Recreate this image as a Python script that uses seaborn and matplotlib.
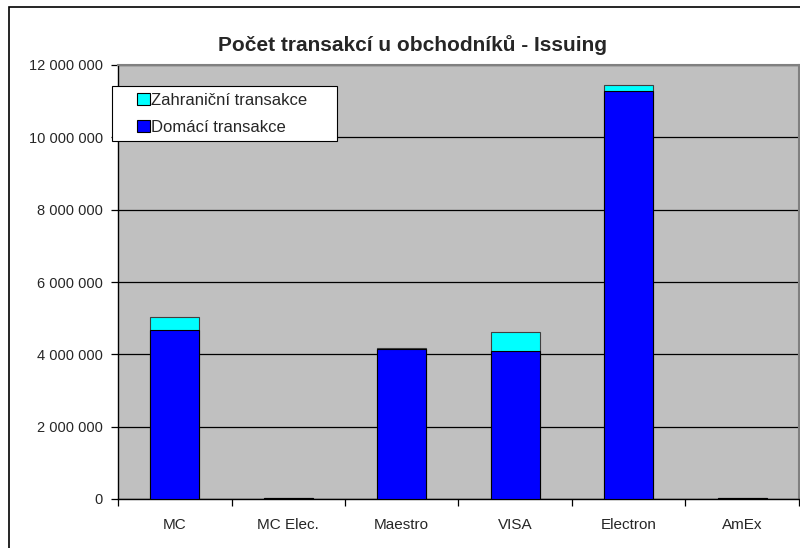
import matplotlib.pyplot as plt
import matplotlib.ticker as mticker
import matplotlib.patches as mpatches
from matplotlib.legend_handler import HandlerPatch
import pandas as pd
import seaborn as sns

# Data
categories = ['MC', 'MC Elec.', 'Maestro', 'VISA', 'Electron', 'AmEx']
domestic = [4660000, 15000, 4140000, 4080000, 11290000, 15000]
foreign = [360000, 5000, 30000, 530000, 150000, 5000]
series_names = ['Zahraniční transakce', 'Domácí transakce']

df = pd.DataFrame({'card': categories, 'domestic': domestic, 'foreign': foreign})
df['total'] = df['domestic'] + df['foreign']

sns.set_style('white')
plt.rcParams['font.family'] = ['Liberation Sans', 'DejaVu Sans']

fig = plt.figure(figsize=(8, 5.48), dpi=100)
ax = fig.add_axes([118 / 800, 1 - 499 / 548, 681 / 800, (499 - 65) / 548])
ax.set_facecolor('#C0C0C0')

# stacked bars: total (cyan) first, then domestic (blue) on top
sns.barplot(data=df, x='card', y='total', color='#00FFFF', width=0.43,
            edgecolor='#404040', linewidth=0.8, saturation=1, ax=ax, zorder=3)
sns.barplot(data=df, x='card', y='domestic', color='#0000FF', width=0.43,
            edgecolor='black', linewidth=0.8, saturation=1, ax=ax, zorder=3)

ax.set_xlim(-0.5, len(categories) - 0.5)
ax.set_ylim(0, 12000000)
ax.yaxis.set_major_locator(mticker.MultipleLocator(2000000))
ax.yaxis.set_major_formatter(mticker.FuncFormatter(lambda v, p: f'{int(v):,}'.replace(',', ' ')))
ax.grid(axis='y', color='black', linewidth=0.9, zorder=1)
ax.set_axisbelow(True)
ax.set_xlabel('')
ax.set_ylabel('')

# category boundary ticks on x axis
ax.set_xticks(range(len(categories)))
ax.set_xticklabels(categories)
ax.xaxis.set_minor_locator(mticker.FixedLocator([i - 0.5 for i in range(len(categories) + 1)]))
ax.tick_params(axis='x', which='major', length=0, pad=14, labelsize=11)
ax.tick_params(axis='x', which='minor', length=5, width=0.9, color='black', direction='out', bottom=True)
ax.tick_params(axis='y', length=5, width=0.9, color='black', direction='out', left=True, pad=6, labelsize=10.5)

for side in ['left', 'bottom']:
    ax.spines[side].set_color('black')
    ax.spines[side].set_linewidth(1.0)
for side in ['top', 'right']:
    ax.spines[side].set_color('#808080')
    ax.spines[side].set_linewidth(1.5)

fig.text(412 / 800, 1 - 45 / 548, 'Počet transakcí u obchodníků - Issuing',
         ha='center', va='center', fontsize=15, fontweight='bold')


# legend square sits at the right end of the handle box
def square(legend, orig_handle, xdescent, ydescent, width, height, fontsize):
    s = 0.75 * fontsize
    return mpatches.Rectangle((width - xdescent - s, -ydescent + (height - s) / 2), s, s)


handles = [mpatches.Patch(facecolor='#00FFFF', edgecolor='black', linewidth=0.8),
           mpatches.Patch(facecolor='#0000FF', edgecolor='black', linewidth=0.8)]
leg = ax.legend(handles, series_names, loc='upper left', mode='expand',
                bbox_to_anchor=(112 / 800, 1 - 140 / 548, 225 / 800, 54 / 548),
                bbox_transform=fig.transFigure,
                handler_map={mpatches.Patch: HandlerPatch(patch_func=square)},
                frameon=True, fancybox=False, shadow=False, framealpha=1,
                edgecolor='black', fontsize=12, handlelength=1.85, handleheight=0.8,
                handletextpad=0.1, borderpad=0.4, labelspacing=0.7, borderaxespad=0)
leg.get_frame().set_linewidth(0.8)
leg.set_zorder(10)

# outer chart border
fig.patches.append(mpatches.Rectangle((9 / 800, -0.1), 1.2, 1 - 7 / 548 + 0.1, transform=fig.transFigure,
                                      fill=False, edgecolor='black', linewidth=1.2))

fig.savefig('out.png', dpi=100)
